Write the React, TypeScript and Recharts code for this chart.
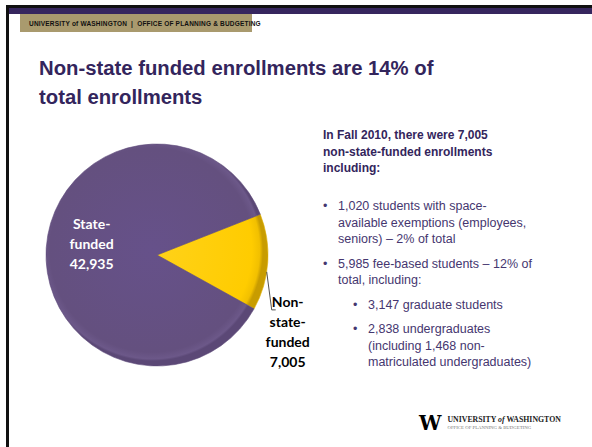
import { PieChart, Pie, Cell } from 'recharts';

const categories = ['Non-state-funded', 'State-funded'];
const enrollments = [7005, 42935];
const sliceColors = ['url(#yellowFill)', 'url(#purpleFill)'];
const labelLines = [
  ['Non-', 'state-', 'funded', '7,005'],
  ['State-', 'funded', '42,935'],
];

const titleLines = ['Non-state funded enrollments are 14% of', 'total enrollments'];
const introLines = ['In Fall 2010, there were 7,005', 'non-state-funded enrollments', 'including:'];

const data = categories.map((name, i) => ({ name, value: enrollments[i] }));

const RAD = Math.PI / 180;

function SliceLabel(props: any) {
  const { cx, cy, midAngle, outerRadius, index } = props;
  const lines = labelLines[index];
  if (index === 1) {
    const r = outerRadius * 0.59;
    const x = cx + r * Math.cos(-midAngle * RAD);
    const y = cy + r * Math.sin(-midAngle * RAD);
    return (
      <text
        x={x}
        y={y - 27}
        fill="#ffffff"
        textAnchor="middle"
        style={{ fontFamily: 'Lato', fontWeight: 700, fontSize: 14 }}
      >
        {lines.map((l, i) => (
          <tspan key={i} x={x} dy={i === 0 ? 5 : 20}>
            {l}
          </tspan>
        ))}
      </text>
    );
  }
  // outside label with a short leader line
  const a = (midAngle - 5) * RAD;
  const sx = cx + outerRadius * Math.cos(-a);
  const sy = cy + outerRadius * Math.sin(-a);
  const ex = sx + 5;
  const ey = sy + 38;
  const tx = ex + 16;
  return (
    <g>
      <polyline points={`${sx},${sy} ${ex},${ey} ${ex + 4},${ey}`} fill="none" stroke="#404040" strokeWidth={0.9} />
      <text
        x={tx}
        y={ey - 8}
        fill="#000000"
        textAnchor="middle"
        style={{ fontFamily: 'Lato', fontWeight: 700, fontSize: 14 }}
      >
        {lines.map((l, i) => (
          <tspan key={i} x={tx} dy={i === 0 ? 5 : 20}>
            {l}
          </tspan>
        ))}
      </text>
    </g>
  );
}

const purpleText = '#33255c';
const bulletText = '#45366f';

export default function App() {
  return (
    <div style={{ position: 'relative', width: 592, height: 447, background: '#ffffff', overflow: 'hidden' }}>
      <style>{`body{margin:0}`}</style>
      {/* slide frame */}
      <div style={{ position: 'absolute', left: 6, top: 5, width: 586, height: 3, background: '#111111' }} />
      <div style={{ position: 'absolute', left: 6, top: 8, width: 586, height: 6, background: '#36265e' }} />
      <div style={{ position: 'absolute', left: 6, top: 5, width: 3, height: 442, background: '#111111' }} />
      {/* header banner */}
      <div
        style={{
          position: 'absolute',
          left: 20,
          top: 14,
          width: 232,
          height: 18,
          background: '#a99a6e',
          display: 'flex',
          alignItems: 'center',
        }}
      >
        <div style={{ width: 12, height: 10, background: '#3d2a78', marginLeft: 5, marginRight: 4 }} />
        <span
          style={{
            fontFamily: 'Liberation Sans',
            fontWeight: 700,
            fontSize: 6.5,
            color: '#111111',
            whiteSpace: 'nowrap',
            letterSpacing: 0.2,
          }}
        >
          UNIVERSITY of WASHINGTON &nbsp;|&nbsp; OFFICE OF PLANNING &amp; BUDGETING
        </span>
      </div>
      {/* title */}
      <div
        style={{
          position: 'absolute',
          left: 39,
          top: 54,
          fontFamily: 'Liberation Sans',
          fontWeight: 700,
          fontSize: 20.3,
          lineHeight: '29px',
          color: purpleText,
          whiteSpace: 'nowrap',
        }}
      >
        {titleLines.map((l) => (
          <div key={l}>{l}</div>
        ))}
      </div>
      {/* pie */}
      <div style={{ position: 'absolute', left: 0, top: 0 }}>
        <PieChart width={330} height={447}>
          <defs>
            <radialGradient id="purpleFill" cx="152" cy="250" r="111" gradientUnits="userSpaceOnUse">
              <stop offset="0%" stopColor="#66518a" />
              <stop offset="92%" stopColor="#64507f" />
              <stop offset="98%" stopColor="#6c5889" />
              <stop offset="100%" stopColor="#5b4876" />
            </radialGradient>
            <radialGradient id="yellowFill" cx="152" cy="250" r="111" gradientUnits="userSpaceOnUse">
              <stop offset="0%" stopColor="#ffd21a" />
              <stop offset="90%" stopColor="#ffcc00" />
              <stop offset="97%" stopColor="#f2c000" />
              <stop offset="100%" stopColor="#c89c00" />
            </radialGradient>
          </defs>
          <Pie
            data={data}
            dataKey="value"
            nameKey="name"
            cx={152}
            cy={250}
            outerRadius={111}
            startAngle={-29}
            endAngle={331}
            strokeWidth={0.6}
            label={SliceLabel}
            labelLine={false}
            isAnimationActive={false}
          >
            {data.map((d, i) => (
              <Cell key={d.name} fill={sliceColors[i]} stroke={i === 0 ? '#e0b000' : '#5c4878'} />
            ))}
          </Pie>
        </PieChart>
      </div>
      {/* right text */}
      <div
        style={{
          position: 'absolute',
          left: 323,
          top: 127,
          fontFamily: 'Liberation Sans',
          fontWeight: 700,
          fontSize: 12,
          lineHeight: '16.5px',
          color: purpleText,
          whiteSpace: 'nowrap',
        }}
      >
        {introLines.map((l) => (
          <div key={l}>{l}</div>
        ))}
      </div>
      <div
        style={{
          position: 'absolute',
          left: 323,
          top: 198,
          fontFamily: 'Liberation Sans',
          fontSize: 12.5,
          lineHeight: '16.5px',
          color: bulletText,
          whiteSpace: 'nowrap',
        }}
      >
        <div style={{ display: 'flex' }}>
          <span style={{ width: 15 }}>•</span>
          <div>
            <div>1,020 students with space-</div>
            <div>available exemptions (employees,</div>
            <div>seniors) – 2% of total</div>
          </div>
        </div>
        <div style={{ display: 'flex', marginTop: 8 }}>
          <span style={{ width: 15 }}>•</span>
          <div>
            <div>5,985 fee-based students – 12% of</div>
            <div>total, including:</div>
          </div>
        </div>
        <div style={{ display: 'flex', marginTop: 8, marginLeft: 30 }}>
          <span style={{ width: 15 }}>•</span>
          <div>3,147 graduate students</div>
        </div>
        <div style={{ display: 'flex', marginTop: 8, marginLeft: 30 }}>
          <span style={{ width: 15 }}>•</span>
          <div>
            <div>2,838 undergraduates</div>
            <div>(including 1,468 non-</div>
            <div>matriculated undergraduates)</div>
          </div>
        </div>
      </div>
      {/* logo */}
      <div style={{ position: 'absolute', left: 419, top: 413, display: 'flex', alignItems: 'center' }}>
        <span style={{ fontFamily: 'DejaVu Serif', fontWeight: 700, fontSize: 20, color: '#000', lineHeight: '20px' }}>W</span>
        <div style={{ marginLeft: 6, whiteSpace: 'nowrap' }}>
          <div style={{ fontFamily: 'Liberation Serif', fontWeight: 700, fontSize: 7.8, color: '#222', lineHeight: '9px' }}>
            UNIVERSITY <i>of</i> WASHINGTON
          </div>
          <div style={{ fontFamily: 'Liberation Serif', fontSize: 4.8, color: '#777', lineHeight: '7px' }}>
            OFFICE OF PLANNING &amp; BUDGETING
          </div>
        </div>
      </div>
    </div>
  );
}
